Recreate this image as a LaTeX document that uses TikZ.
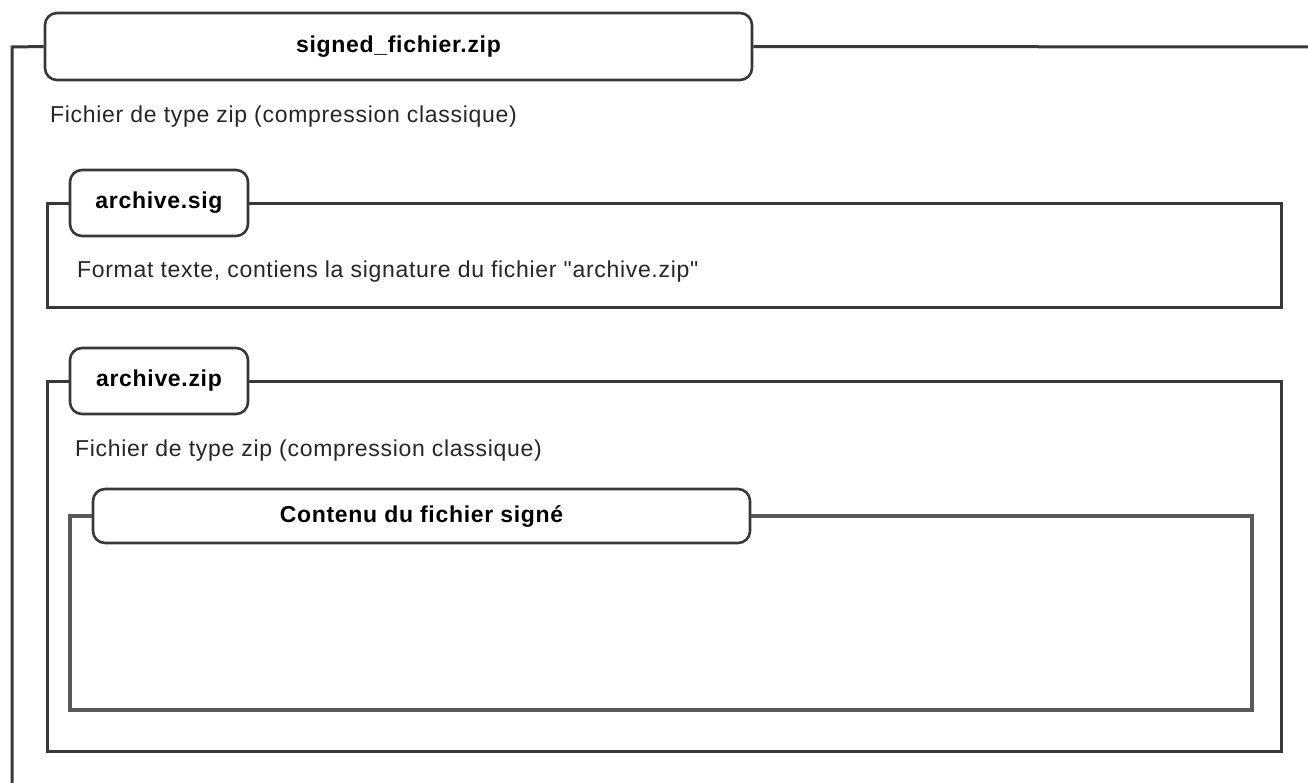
\documentclass[tikz,border=0pt]{standalone}
\usepackage{fontspec}
\setmainfont{Liberation Sans}[Ligatures=TeXOff, LetterSpace=3]
\usetikzlibrary{positioning}

\begin{document}
\begin{tikzpicture}[
    x=1pt, y=-1pt,
    labelbox/.style={draw=black!78, line width=2.6pt, rounded corners=12pt, fill=white,
        inner sep=0pt, font=\fontsize{23}{27}\selectfont\bfseries},
    frameline/.style={draw=black!78, line width=3pt},
    innerline/.style={draw=black!65, line width=3.2pt},
    desc/.style={anchor=west, inner sep=0pt, text=black!85, font=\fontsize{23}{27}\selectfont}
]
    \clip (0,0) rectangle (1308,782);
    \fill[white] (0,0) rectangle (1308,782);

    % signed_fichier.zip
    \node[labelbox, minimum width=707pt, minimum height=67pt] (zipout) at (398.5,46.5) {signed\_fichier.zip};
    \node[desc] (descout) at (50,117) {Fichier de type zip (compression classique)};
    \draw[frameline] (zipout.east) -- (1330,47) -- (1330,800) -- (12,800) -- (12,47) -- (zipout.west);

    % archive.sig
    \node[labelbox, minimum width=178pt, minimum height=66pt] (sig) at (159,203) {archive.sig};
    \node[desc] (descsig) at (77,272) {Format texte, contiens la signature du fichier "archive.zip"};
    \draw[frameline] (sig.east) -- (1281,203) -- (1281,307) -- (47,307) -- (47,203) -- (sig.west);

    % archive.zip
    \node[labelbox, minimum width=178pt, minimum height=66pt] (zipin) at (159,381) {archive.zip};
    \node[desc] (desczip) at (75,451) {Fichier de type zip (compression classique)};
    \draw[frameline] (zipin.east) -- (1281,381) -- (1281,751) -- (47,751) -- (47,381) -- (zipin.west);

    % Contenu du fichier signe
    \node[labelbox, minimum width=657pt, minimum height=54pt] (content) at (421.5,516) {Contenu du fichier signé};
    \draw[innerline] (content.east) -- (1252,516) -- (1252,710) -- (70,710) -- (70,516) -- (content.west);
\end{tikzpicture}
\end{document}
